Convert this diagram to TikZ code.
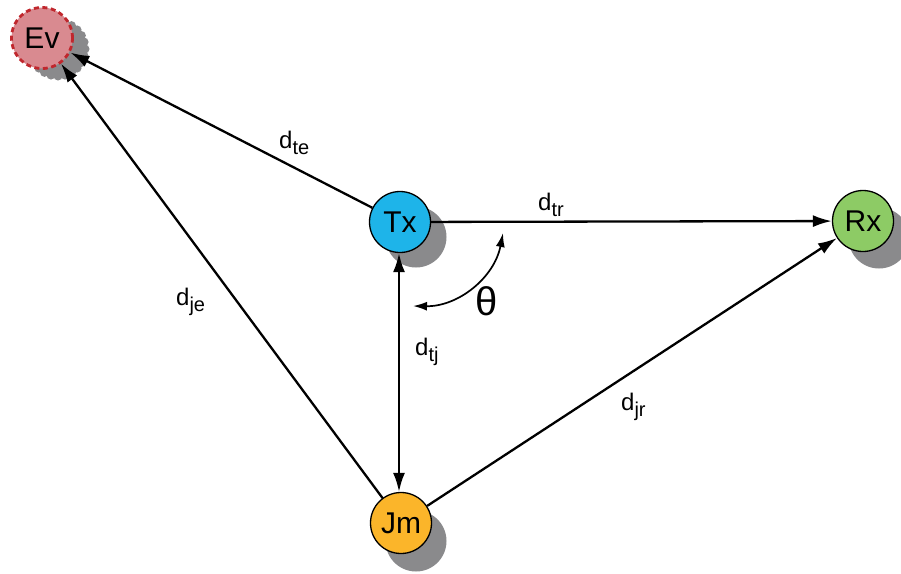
\documentclass[tikz,border=0pt]{standalone}
\usepackage{fontspec}
\setmainfont{Liberation Sans}
\usetikzlibrary{arrows.meta,calc}
\definecolor{txc}{HTML}{1EB4E9}
\definecolor{rxc}{HTML}{8DCB65}
\definecolor{jmc}{HTML}{FBB52A}
\definecolor{evc}{HTML}{D98A90}
\definecolor{evb}{HTML}{C0272D}
\definecolor{shc}{HTML}{8A8A8C}
\newcommand{\dsub}[1]{d\raisebox{-6pt}{\fontsize{20}{22}\selectfont #1}}
\begin{document}
\begin{tikzpicture}[x=1pt,y=-1pt,
  station/.style={circle,draw=black,line width=1.3pt,minimum size=61pt,inner sep=0pt,font=\fontsize{30}{33}\selectfont},
  shadowc/.style={circle,fill=shc,minimum size=61pt,inner sep=0pt},
  link/.style={line width=2.3pt,-{Latex[length=19pt,width=12pt]}},
  dlab/.style={font=\fontsize{24}{28}\selectfont,inner sep=0pt,anchor=base west}]
\useasboundingbox (0,0) rectangle (901,573);
% shadows
\node[shadowc] (txs) at (416,237) {};
\node[shadowc] (rxs) at (879,238) {};
\node[shadowc] (jms) at (416,541) {};
\fill[shc] (58,49) circle (27);
\foreach \a in {0,15,...,345}{\fill[shc] ($(58,49)+(\a:27)$) circle (4.5);}
% nodes
\node[station,fill=txc] (tx) at (400,222) {Tx};
\node[station,fill=rxc] (rx) at (863,221) {Rx};
\node[station,fill=jmc] (jm) at (401,523) {Jm};
\node[station,fill=evc,draw=evb,dash pattern=on 5pt off 3.5pt,line width=2.8pt] (ev) at (42,38) {Ev};
% links
\draw[link] (tx) -- (ev);
\draw[link] (tx) -- (rx);
\draw[link] (jm) -- (ev);
\draw[link] (jm) -- (rx);
\draw[line width=2.3pt,{Latex[length=19pt,width=12pt]}-{Latex[length=19pt,width=12pt]}] (tx.south -| 399,0) -- (jm.north -| 399,0);
% theta
\coordinate (th1) at (503,233);
\coordinate (th2) at (413,306);
\draw[line width=1.7pt,{Latex[length=14pt,width=9pt]}-{Latex[length=14pt,width=9pt]}] (th1) to[bend left=40] (th2);
\node[font=\fontsize{40}{44}\selectfont,inner sep=0pt] (theta) at (487,301) {θ};
% labels
\node[dlab] (lte) at (279,148) {\dsub{te}};
\node[dlab] (ltr) at (538,210) {\dsub{tr}};
\node[dlab] (lje) at (176,305) {\dsub{je}};
\node[dlab] (ltj) at (415,355) {\dsub{tj}};
\node[dlab] (ljr) at (621,410) {\dsub{jr}};
\end{tikzpicture}
\end{document}
